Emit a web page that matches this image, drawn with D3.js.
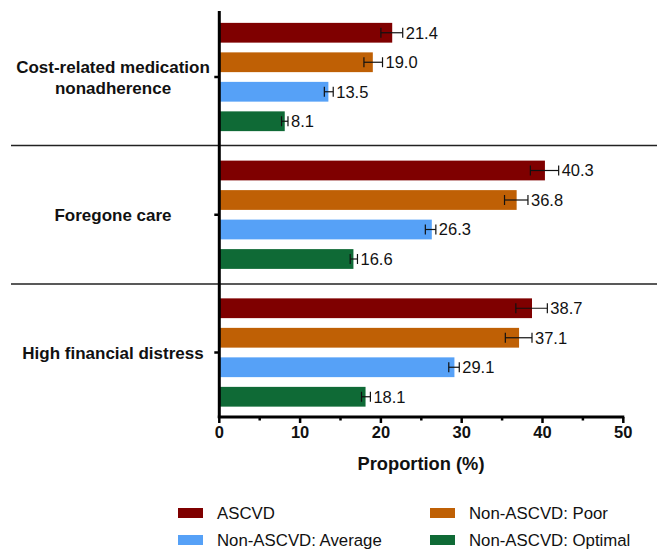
<!DOCTYPE html>
<html><head><meta charset="utf-8">
<script src="https://cdn.jsdelivr.net/npm/d3@7"></script>
<style>body{margin:0;background:#fff}svg{display:block;font-family:"Liberation Sans",Arial,sans-serif}</style>
</head><body>
<svg id="c" width="657" height="551"></svg>
<script>
const categories = ["Cost-related medication\nnonadherence", "Foregone care", "High financial distress"];
const seriesNames = ["ASCVD", "Non-ASCVD: Poor", "Non-ASCVD: Average", "Non-ASCVD: Optimal"];
const seriesColors = ["#7f0000", "#bf6005", "#56a1f7", "#0f6a36"];
const ascvd   = [21.4, 40.3, 38.7];
const poor    = [19.0, 36.8, 37.1];
const average = [13.5, 26.3, 29.1];
const optimal = [8.1, 16.6, 18.1];
const ciLow  = [[20.0, 38.5, 36.7], [17.9, 35.3, 35.4], [13.0, 25.5, 28.4], [7.7, 16.2, 17.6]];
const ciHigh = [[22.7, 42.0, 40.6], [20.2, 38.2, 38.7], [14.1, 26.8, 29.7], [8.5, 17.1, 18.7]];
const xTicks = [0, 10, 20, 30, 40, 50];
const xMinorTicks = [5, 15, 25, 35, 45];

const values = [ascvd, poor, average, optimal];
const svg = d3.select("#c");
const x = d3.scaleLinear().domain([0, 50]).range([219.3, 623.3]);
const yG = d3.scalePoint().domain(categories).range([77, 352.5]);
const yS = d3.scaleBand().domain(seriesNames).range([-59, 59]).paddingInner(0.33).paddingOuter(0.165);

// separators
[145.5, 284].forEach(yy => svg.append("line").attr("x1", 11).attr("x2", 657).attr("y1", yy).attr("y2", yy)
  .attr("stroke", "#222").attr("stroke-width", 1.5));

// bars
const data = [];
categories.forEach((c, ci) => seriesNames.forEach((s, si) => data.push({c, s, si, v: values[si][ci], lo: ciLow[si][ci], hi: ciHigh[si][ci]})));
const g = svg.append("g");
g.selectAll("rect").data(data).join("rect")
  .attr("x", x(0)).attr("width", d => x(d.v) - x(0))
  .attr("y", d => yG(d.c) + yS(d.s)).attr("height", yS.bandwidth())
  .attr("fill", d => seriesColors[d.si]);
const eb = g.selectAll("g.eb").data(data).join("g").attr("class", "eb")
  .attr("transform", d => `translate(0,${yG(d.c) + yS(d.s) + yS.bandwidth() / 2})`);
eb.append("line").attr("x1", d => x(d.lo)).attr("x2", d => x(d.hi)).attr("stroke", "#111").attr("stroke-width", 1.2);
eb.append("line").attr("x1", d => x(d.lo)).attr("x2", d => x(d.lo)).attr("y1", -5).attr("y2", 5).attr("stroke", "#111").attr("stroke-width", 1.2);
eb.append("line").attr("x1", d => x(d.hi)).attr("x2", d => x(d.hi)).attr("y1", -5).attr("y2", 5).attr("stroke", "#111").attr("stroke-width", 1.2);
eb.append("text").attr("x", d => x(d.hi) + 3).attr("dy", "0.36em").attr("font-size", 16.5).attr("fill", "#111")
  .text(d => d.v.toFixed(1));

// x axis
const xa = svg.append("g").attr("transform", "translate(0,417)");
xa.append("line").attr("x1", x(0) - 1.5).attr("x2", x(50) + 1).attr("stroke", "#000").attr("stroke-width", 3);
xa.selectAll("line.mj").data(xTicks).join("line").attr("class", "mj")
  .attr("x1", d => x(d)).attr("x2", d => x(d)).attr("y1", 0).attr("y2", 6).attr("stroke", "#000").attr("stroke-width", 2.5);
xa.selectAll("line.mn").data(xMinorTicks).join("line").attr("class", "mn")
  .attr("x1", d => x(d)).attr("x2", d => x(d)).attr("y1", 0).attr("y2", 3.5).attr("stroke", "#000").attr("stroke-width", 2.5);
xa.selectAll("text").data(xTicks).join("text")
  .attr("x", d => x(d)).attr("y", 21).attr("text-anchor", "middle").attr("font-size", 16.5).attr("font-weight", "bold").attr("fill", "#111")
  .text(d => d);
svg.append("text").attr("x", 421).attr("y", 470).attr("text-anchor", "middle").attr("font-size", 18.3).attr("font-weight", "bold").attr("fill", "#111")
  .text("Proportion (%)");

// y axis
svg.append("line").attr("x1", x(0)).attr("x2", x(0)).attr("y1", 11).attr("y2", 418).attr("stroke", "#000").attr("stroke-width", 3);
categories.forEach(c => {
  svg.append("line").attr("x1", x(0) - 5).attr("x2", x(0)).attr("y1", yG(c)).attr("y2", yG(c)).attr("stroke", "#000").attr("stroke-width", 2.5);
  const lines = c.split("\n");
  const t = svg.append("text").attr("text-anchor", "middle").attr("font-size", 17).attr("font-weight", "bold").attr("fill", "#111");
  lines.forEach((ln, i) => t.append("tspan").attr("x", 113).attr("y", yG(c) + (i - (lines.length - 1) / 2) * 21).attr("dy", "0.36em").text(ln));
});

// legend
const legendPos = [[178, 513], [430, 513], [178, 540], [430, 540]];
seriesNames.forEach((s, i) => {
  const [lx, ly] = legendPos[i];
  svg.append("rect").attr("x", lx).attr("y", ly - 5).attr("width", 25).attr("height", 10).attr("fill", seriesColors[i]);
  svg.append("text").attr("x", lx + 39).attr("y", ly).attr("dy", "0.33em").attr("font-size", 16.8).attr("fill", "#111").text(s);
});
</script>
</body></html>
